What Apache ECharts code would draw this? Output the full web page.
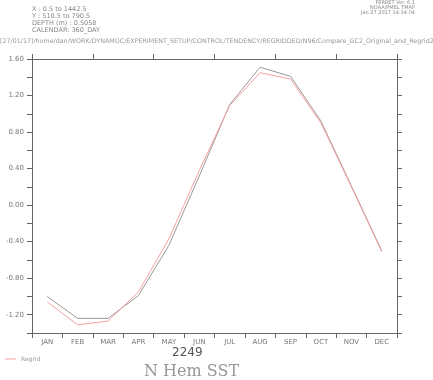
<!DOCTYPE html>
<html>
<head>
<meta charset="utf-8">
<script src="https://cdn.jsdelivr.net/npm/echarts@6/dist/echarts.min.js"></script>
<style>
  html, body { margin: 0; padding: 0; background: #fff; }
  #chart { width: 433px; height: 380px; }
</style>
</head>
<body>
<div id="chart"></div>
<script>
// month categories
const months = ["JAN", "FEB", "MAR", "APR", "MAY", "JUN", "JUL", "AUG", "SEP", "OCT", "NOV", "DEC"];
// N Hem SST anomaly, original grid (gray) and regridded (pink)
const originalValues = [-1.00, -1.24, -1.24, -0.99, -0.44, 0.32, 1.10, 1.51, 1.41, 0.92, 0.21, -0.50];
const regridValues = [-1.06, -1.31, -1.27, -0.95, -0.37, 0.38, 1.09, 1.45, 1.38, 0.90, 0.20, -0.51];
// y axis range, label step
const yMin = -1.4;
const yMax = 1.6;
const yStep = 0.2;

const axisColor = "#666";
const textColor = "#777";
const chart = echarts.init(document.getElementById("chart"));

// only every second tick (0.4) gets a label
function yLabel(v) {
  const k = Math.round(v * 10);
  if (k % 4 !== 0) return "";
  return v.toFixed(2);
}

const tickStyle = { show: true, inside: false, length: 5, lineStyle: { color: axisColor } };

chart.setOption({
  animation: false,
  grid: { left: 32, right: 36, top: 59, bottom: 47 },
  legend: {
    data: ["Regrid"],
    left: 0,
    top: 351,
    icon: "rect",
    itemWidth: 11,
    itemHeight: 1,
    itemGap: 4,
    textStyle: { fontSize: 6, color: "#999", fontFamily: "DejaVu Sans" },
  },
  xAxis: [
    {
      type: "category",
      data: months,
      position: "bottom",
      boundaryGap: true,
      axisLine: { onZero: false, lineStyle: { color: axisColor } },
      axisTick: tickStyle,
      axisLabel: { fontSize: 7, color: textColor, margin: 6, fontFamily: "DejaVu Sans" },
    },
    {
      type: "category",
      data: months,
      position: "top",
      boundaryGap: true,
      axisLine: { onZero: false, lineStyle: { color: axisColor } },
      axisTick: tickStyle,
      axisLabel: { show: false },
    },
  ],
  yAxis: [
    {
      type: "value",
      min: yMin,
      max: yMax,
      interval: yStep,
      position: "left",
      axisLine: { show: true, onZero: false, lineStyle: { color: axisColor } },
      axisTick: tickStyle,
      splitLine: { show: false },
      axisLabel: {
        formatter: yLabel,
        fontSize: 7,
        color: textColor,
        margin: 8,
        showMinLabel: true,
        showMaxLabel: true,
        fontFamily: "DejaVu Sans",
      },
    },
    {
      type: "value",
      min: yMin,
      max: yMax,
      interval: yStep,
      position: "right",
      axisLine: { show: true, onZero: false, lineStyle: { color: axisColor } },
      axisTick: tickStyle,
      splitLine: { show: false },
      axisLabel: { show: false },
    },
  ],
  graphic: [
    {
      type: "group",
      left: 32,
      top: 6,
      children: [
        { type: "text", left: 0, top: 0, style: { text: "X : 0.5 to 1442.5", fontSize: 6.5, fill: "#888", fontFamily: "DejaVu Sans" } },
        { type: "text", left: 0, top: 7, style: { text: "Y : 510.5 to 790.5", fontSize: 6.5, fill: "#888", fontFamily: "DejaVu Sans" } },
        { type: "text", left: 0, top: 14, style: { text: "DEPTH (m) : 0.5058", fontSize: 6.5, fill: "#888", fontFamily: "DejaVu Sans" } },
        { type: "text", left: 0, top: 21, style: { text: "CALENDAR: 360_DAY", fontSize: 6.5, fill: "#888", fontFamily: "DejaVu Sans" } },
      ],
    },
    {
      type: "group",
      right: 18,
      top: 0,
      children: [
        { type: "text", right: 0, top: 0, style: { text: "FERRET Ver. 6.1", fontSize: 5, fill: "#888", align: "right", fontFamily: "DejaVu Sans" } },
        { type: "text", right: 0, top: 5, style: { text: "NOAA/PMEL TMAP", fontSize: 5, fill: "#888", align: "right", fontFamily: "DejaVu Sans" } },
        { type: "text", right: 0, top: 10, style: { text: "Jan 27 2017 14:34:04", fontSize: 5, fill: "#888", align: "right", fontFamily: "DejaVu Sans" } },
      ],
    },
    {
      type: "text",
      left: 0,
      top: 38,
      style: {
        text: "[27/01/17]/home/dan/WORK/DYNAMOC/EXPERIMENT_SETUP/CONTROL/TENDENCY/REGRIDDED/N96/Compare_GC2_Original_and_Regrid2",
        fontSize: 6.35,
        fill: "#999",
        fontFamily: "DejaVu Sans",
      },
    },
    {
      type: "text",
      left: 172,
      top: 347,
      style: { text: "2249", fontSize: 12, fill: "#555", fontFamily: "DejaVu Sans" },
    },
    {
      type: "text",
      left: 144,
      top: 364,
      style: { text: "N Hem SST", fontSize: 16, fill: "#999", fontFamily: "DejaVu Serif" },
    },
  ],
  series: [
    {
      name: "Original",
      type: "line",
      data: originalValues,
      symbol: "none",
      lineStyle: { color: "#999", width: 1 },
      z: 2,
    },
    {
      name: "Regrid",
      type: "line",
      data: regridValues,
      symbol: "none",
      itemStyle: { color: "#f7a1a1" },
      lineStyle: { color: "#f7a1a1", width: 1 },
      z: 3,
    },
  ],
});
</script>
</body>
</html>
